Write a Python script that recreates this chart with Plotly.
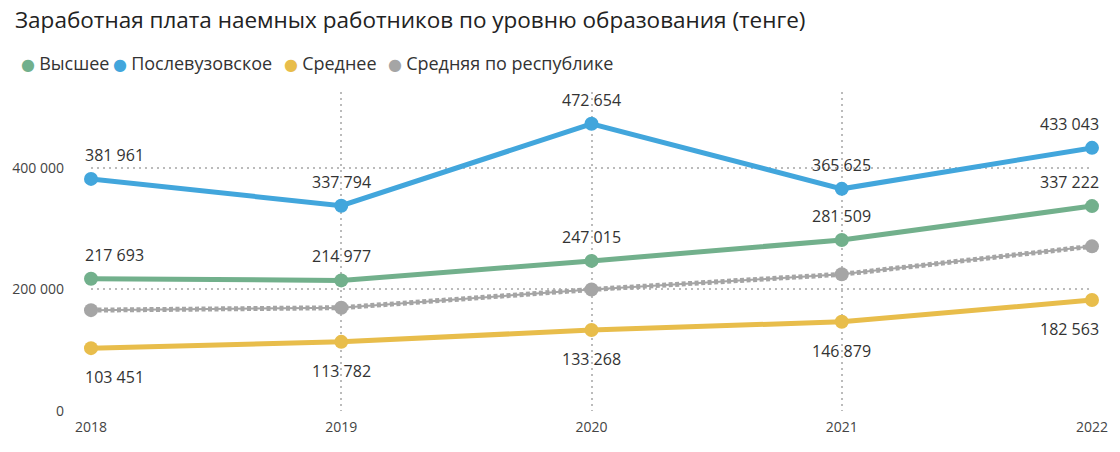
import plotly.graph_objects as go

years = [2018, 2019, 2020, 2021, 2022]
higher = [217693, 214977, 247015, 281509, 337222]
postgrad = [381961, 337794, 472654, 365625, 433043]
secondary = [103451, 113782, 133268, 146879, 182563]
national = [166000, 170000, 200000, 225000, 271000]

names = ["Высшее", "Послевузовское", "Среднее", "Средняя по республике"]
colors = ["#72B08C", "#42A6DC", "#E8BD4B", "#A5A5A5"]
title = "Заработная плата наемных работников по уровню образования (тенге)"
y_ticks = [0, 200000, 400000]

font_family = "Open Sans, Noto Sans, DejaVu Sans, sans-serif"
W, H = 1120, 452
ML, MR, MT, MB = 89, 27, 92, 41
PW, PH = W - ML - MR, H - MT - MB

fig = go.Figure()

# national average: thin connector + bead-like dotted stroke
fig.add_trace(go.Scatter(x=years, y=national, mode="lines", line=dict(color=colors[3], width=2),
                         showlegend=False, hoverinfo="skip", cliponaxis=False))
fig.add_trace(go.Scatter(x=years, y=national, name=names[3], mode="lines+markers",
                         line=dict(color=colors[3], width=5, dash="4px,2.5px"),
                         marker=dict(color=colors[3], size=14),
                         showlegend=False, cliponaxis=False))
for name, vals, col in [(names[2], secondary, colors[2]),
                        (names[0], higher, colors[0]),
                        (names[1], postgrad, colors[1])]:
    fig.add_trace(go.Scatter(x=years, y=vals, name=name, mode="lines+markers",
                             line=dict(color=col, width=5),
                             marker=dict(color=col, size=14),
                             showlegend=False, cliponaxis=False))

def fmt(v):
    return f"{v:,}".replace(",", " ")

annotations = []
for vals, above in [(postgrad, True), (higher, True), (secondary, False)]:
    for i, (x, v) in enumerate(zip(years, vals)):
        if i == 0:
            xa, xs = "left", -8
        elif i == len(years) - 1:
            xa, xs = "right", 9
        else:
            xa, xs = "center", 0
        annotations.append(dict(
            x=x, y=v, xref="x", yref="y", text=fmt(v), showarrow=False,
            xanchor=xa, yanchor="middle", xshift=xs, yshift=24 if above else -29,
            font=dict(size=16, color="#333333", family=font_family)))

# legend (manual, compact dot + label layout)
legend_px = [17, 109, 281, 385]
for name, col, lx in zip(names, colors, legend_px):
    annotations.append(dict(
        x=(lx - ML) / PW, y=1 + (MT - 63) / PH, xref="paper", yref="paper",
        text=f"<span style='color:{col};font-size:16px'>● </span>{name}", showarrow=False,
        xanchor="left", yanchor="middle",
        font=dict(size=18, color="#333333", family=font_family)))

fig.update_layout(
    width=W, height=H,
    margin=dict(l=ML, r=MR, t=MT, b=MB),
    paper_bgcolor="white", plot_bgcolor="white",
    separators=". ",
    font=dict(family=font_family, color="#333333"),
    title=dict(text=title, x=15 / W, xref="container", xanchor="left",
               y=1 - 20 / H, yref="container", yanchor="middle",
               font=dict(size=22.5, color="#222222", family=font_family)),
    showlegend=False,
    annotations=annotations,
)

fig.update_xaxes(
    range=[2018, 2022], tickvals=years, ticktext=[str(y) for y in years],
    showgrid=True, gridcolor="#BBBBBB", griddash="2px,4px", gridwidth=1.5,
    zeroline=False, showline=False, ticks="", ticklabelstandoff=6,
    tickfont=dict(size=14, color="#444444", family=font_family),
)
fig.update_yaxes(
    range=[0, 525000], tickvals=y_ticks,
    tickformat=",d",
    showgrid=True, gridcolor="#BBBBBB", griddash="2px,4px", gridwidth=1.5,
    zeroline=False, showline=False, ticks="", ticklabelstandoff=26,
    tickfont=dict(size=14, color="#444444", family=font_family),
)

fig.write_html("out.html", config={"displayModeBar": False},
               post_script="document.body.style.margin='0';")
